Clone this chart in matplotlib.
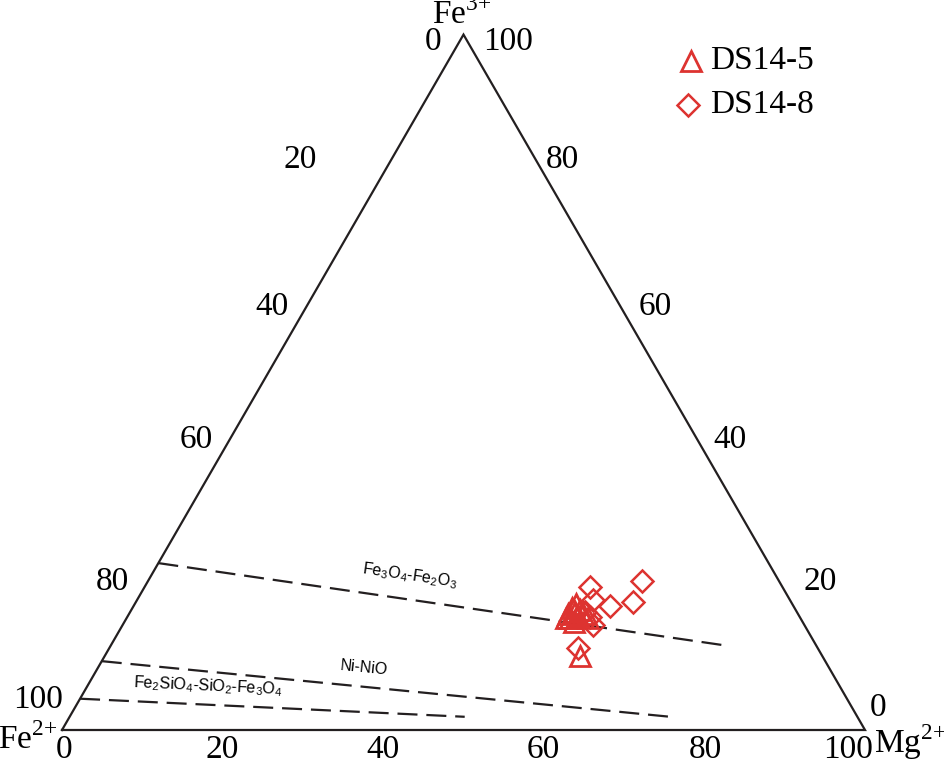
import numpy as np
import matplotlib
matplotlib.use("Agg")
from matplotlib import pyplot as plt

plt.rcParams['font.family'] = ['Liberation Serif', 'DejaVu Serif']
plt.rcParams['mathtext.fontset'] = 'custom'
plt.rcParams['mathtext.rm'] = 'Liberation Serif'
plt.rcParams['mathtext.sf'] = 'Liberation Sans'

# 数据：(Fe2+, Mg2+, Fe3+) 百分比，只用 Mg 和 Fe3
ds145_mg = [54.7, 54.7, 55.4, 56.1, 55.2, 55.9, 56.5, 55.0, 54.7, 57.5, 59.2, 56.0]
ds145_fe3 = [16.7, 17.5, 17.0, 16.4, 16.1, 17.3, 16.7, 18.1, 16.1, 16.1, 10.6, 15.6]
ds148_mg = [55.5, 61.5, 61.9, 59.3, 56.8, 58.6, 56.6, 58.4, 57.6]
ds148_fe3 = [20.6, 21.4, 18.4, 17.8, 18.7, 15.1, 17.0, 11.8, 16.2]

# 缓冲线 (Mg, Fe3) 端点
buffers = {
    "Fe3O4-Fe2O3": ([0.0, 76.9], [24.0, 12.1]),
    "Ni-NiO": ([0.0, 74.8], [9.9, 1.9]),
    "Fe2SiO4-SiO2-Fe3O4": ([0.0, 49.2], [4.5, 1.9]),
}

left_ticks = ["0", "20", "40", "60", "80", "100"]
right_ticks = ["100", "80", "60", "40", "20", "0"]
bottom_ticks = ["0", "20", "40", "60", "80", "100"]

h = np.sqrt(3) / 2


def tern(mg, fe3):
    mg = np.asarray(mg, dtype=float)
    fe3 = np.asarray(fe3, dtype=float)
    return mg + fe3 / 2, fe3 * h


def px2d(x, y):
    return (x - 62) / 8.03, (730 - y) / 8.03


fig = plt.figure(figsize=(9.45, 7.65), dpi=100)
ax = fig.add_axes([0, 0, 1, 1])
ax.set_xlim(-62 / 8.03, (945 - 62) / 8.03)
ax.set_ylim(-35 / 8.03, 730 / 8.03)
ax.set_aspect("equal")
ax.axis("off")

# 三角形边框
tx, ty = tern([0, 100, 0, 0], [0, 0, 100, 0])
ax.plot(tx, ty, color="#231f20", lw=1.6, solid_joinstyle="miter")

# 缓冲线
for name, (mg, fe3) in buffers.items():
    bx, by = tern(mg, fe3)
    ax.plot(bx, by, color="#231f20", lw=1.6, dashes=(9, 4))

sub = lambda s: r"$_{\mathsf{" + s + "}}$"
ax.text(*px2d(410, 576), "Fe" + sub("3") + "O" + sub("4") + "-Fe" + sub("2") + "O" + sub("3"),
        family="Liberation Sans", fontsize=11.5, rotation=-8.3, ha="center", va="center")
ax.text(*px2d(364, 668), "Ni-NiO", family="Liberation Sans", fontsize=11.5,
        rotation=-5.6, ha="center", va="center")
ax.text(*px2d(208, 686), "Fe" + sub("2") + "SiO" + sub("4") + "-SiO" + sub("2") + "-Fe" + sub("3") + "O" + sub("4"),
        family="Liberation Sans", fontsize=11.5, rotation=-2.7, ha="center", va="center")

# 数据点
red = "#dd3330"
px, py = tern(ds145_mg, ds145_fe3)
ax.plot(px, py, ls="none", marker="^", ms=15, mfc="none", mec=red, mew=2)
px, py = tern(ds148_mg, ds148_fe3)
ax.plot(px, py, ls="none", marker="D", ms=11, mfc="none", mec=red, mew=1.8)

# 刻度标签（像素位置读取）
fs = 24
left_pos = [(433, 42), (300, 160), (272, 307), (196, 440), (112, 582), (38, 700)]
right_pos = [(508, 42), (562, 160), (655, 307), (730, 440), (820, 582), (878, 708)]
bottom_pos = [(64, 750), (222, 750), (383, 750), (543, 750), (705, 750), (848, 750)]

for lab, p in zip(left_ticks, left_pos):
    ax.text(*px2d(*p), lab, fontsize=fs, ha="center", va="center")
for lab, p in zip(right_ticks, right_pos):
    ax.text(*px2d(*p), lab, fontsize=fs, ha="center", va="center")
for lab, p in zip(bottom_ticks, bottom_pos):
    ax.text(*px2d(*p), lab, fontsize=fs, ha="center", va="center")

# 顶点标签
ax.text(*px2d(462, 15), r"Fe$^{3{+}}$", fontsize=fs, ha="center", va="center")
ax.text(*px2d(28, 740), r"Fe$^{2{+}}$", fontsize=fs, ha="center", va="center")
ax.text(*px2d(910, 742), r"Mg$^{2{+}}$", fontsize=fs, ha="center", va="center")

# 图例
ax.plot(*px2d(691, 61), ls="none", marker="^", ms=15, mfc="none", mec=red, mew=2)
ax.text(*px2d(710, 61), "DS14-5", fontsize=fs, ha="left", va="center")
ax.plot(*px2d(688, 105), ls="none", marker="D", ms=11, mfc="none", mec=red, mew=1.8)
ax.text(*px2d(710, 105), "DS14-8", fontsize=fs, ha="left", va="center")

fig.savefig("out.png", dpi=100)
